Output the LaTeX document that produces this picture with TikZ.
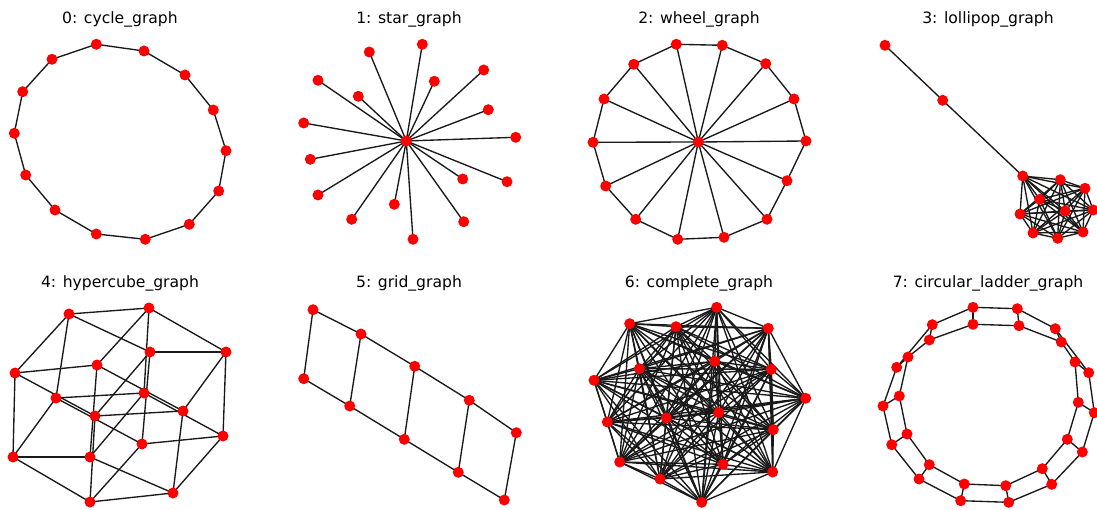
\documentclass[tikz,border=0pt]{standalone}
\usepackage{fontspec}
\setmainfont{DejaVu Sans}
\usetikzlibrary{backgrounds}
\tikzset{
  vtx/.style={circle, fill=red, draw=none, inner sep=0pt, minimum size=11pt},
  edg/.style={draw=black!90, line width=1.35pt},
  ttl/.style={anchor=base, font=\fontsize{15.6}{18}\selectfont, inner sep=0pt}
}
\begin{document}
\begin{tikzpicture}[x=1pt, y=-1pt]
\useasboundingbox (0,0) rectangle (1097,510);
% ---------- titles
\node[ttl] (t0) at (120,24) {0: cycle\_graph};
\node[ttl] (t1) at (409,24) {1: star\_graph};
\node[ttl] (t2) at (699,24) {2: wheel\_graph};
\node[ttl] (t3) at (988,24) {3: lollipop\_graph};
\node[ttl] (t4) at (120,288) {4: hypercube\_graph};
\node[ttl] (t5) at (409,288) {5: grid\_graph};
\node[ttl] (t6) at (699,288) {6: complete\_graph};
\node[ttl] (t7) at (988,288) {7: circular\_ladder\_graph};
% ---------- 0: cycle
\foreach \n/\p in {0/{(96.3,44.3)},1/{(144,51)},2/{(185,75)},3/{(213.3,110)},4/{(226,150.7)},5/{(218.7,191)},6/{(189.3,224.3)},7/{(145.3,239.3)},8/{(96.3,234)},9/{(55,210)},10/{(25.7,175)},11/{(14.3,133.3)},12/{(22.7,91.7)},13/{(52,59.3)}}
  \node[vtx] (a\n) at \p {};
% ---------- 1: star
\node[vtx] (s0) at (406.3,141) {};
\foreach \n/\p in {1/{(369.3,52)},2/{(422.3,44.3)},3/{(434.3,81.3)},4/{(483.7,70)},5/{(488.3,109.7)},6/{(515.7,137.3)},7/{(507,181.7)},8/{(462.7,179)},9/{(463.7,221.7)},10/{(413,239.3)},11/{(394.3,204.3)},12/{(351.7,219.3)},13/{(318,195)},14/{(310.3,159.3)},15/{(303.7,123)},16/{(318,80.3)},17/{(358.3,96.3)}}
  \node[vtx] (s\n) at \p {};
% ---------- 2: wheel
\node[vtx] (w0) at (698.3,142) {};
\foreach \n/\p in {1/{(676.3,44.3)},2/{(722.3,45.3)},3/{(765.7,63.7)},4/{(794,99)},5/{(806,141)},6/{(787,180.7)},7/{(767,219.3)},8/{(724,237.3)},9/{(677.7,239.3)},10/{(635.7,219.3)},11/{(605.7,186)},12/{(593,142.3)},13/{(604,99)},14/{(633.7,64.3)}}
  \node[vtx] (w\n) at \p {};
% ---------- 3: lollipop
\foreach \n/\p in {0/{(1022.7,176)},1/{(1060.3,179.7)},2/{(1085,188.3)},3/{(1039.7,199.3)},4/{(1093.3,210)},5/{(1065.3,211)},6/{(1020,214)},7/{(1033,233)},8/{(1057.7,238.3)},9/{(1083,232)},10/{(942.7,100.3)},11/{(885,45.3)}}
  \node[vtx] (l\n) at \p {};
% ---------- 4: hypercube
\foreach \n/\p in {A/{(69,314)},B/{(149,308)},C/{(150,352)},D/{(226,352)},E/{(97,365)},F/{(15,373)},G/{(56,398)},H/{(144,393)},I/{(183,411)},J/{(95,416)},K/{(223,436)},L/{(142,444)},M/{(13,457)},N/{(90,457)},O/{(173,493)},P/{(90,502)}}
  \node[vtx] (h\n) at \p {};
% ---------- 5: grid
\foreach \n/\p in {1/{(313,309.7)},2/{(361,334)},3/{(414.7,366.3)},4/{(469.3,400.3)},5/{(516.3,432.7)},6/{(303.7,378.7)},7/{(349.7,406)},8/{(404.3,439.3)},9/{(458.3,472.3)},10/{(504.3,500)}}
  \node[vtx] (g\n) at \p {};
% ---------- 6: complete
\foreach \n/\p in {1/{(716.7,307.3)},2/{(629.7,323.7)},3/{(676,326.7)},4/{(768.3,328.3)},5/{(714.7,361.3)},6/{(639.3,368.7)},7/{(771.3,369.3)},8/{(594,380.3)},9/{(805.7,398.3)},10/{(718.7,412.7)},11/{(666.3,418)},12/{(607.3,422)},13/{(773.3,429.7)},14/{(619.7,462)},15/{(723,464.3)},16/{(772.7,472)},17/{(660,479)},18/{(701.7,502.3)}}
  \node[vtx] (k\n) at \p {};
% ---------- 7: circular ladder
\foreach \n/\p in {0/{(973,307.3)},1/{(1017.3,308.7)},2/{(1055.3,328.7)},3/{(1088.7,372.7)},4/{(1094.3,412.7)},5/{(1082.3,452)},6/{(1051.7,484.3)},7/{(1008.7,502.3)},8/{(960.7,500.7)},9/{(919,479)},10/{(891.7,444.7)},11/{(883,406)},12/{(896.7,367.3)},13/{(932.3,324.7)}}
  \node[vtx] (o\n) at \p {};
\foreach \n/\p in {0/{(973,324.3)},1/{(1019,325.7)},2/{(1061.3,342)},3/{(1075,362)},4/{(1078.3,402.3)},5/{(1067.3,439.3)},6/{(1042.3,468.7)},7/{(1005.7,485.7)},8/{(964.3,484)},9/{(929.3,464.7)},10/{(907,434)},11/{(899.3,396)},12/{(908,357)},13/{(929.3,340)}}
  \node[vtx] (i\n) at \p {};
% ================= edges
\begin{pgfonlayer}{background}
  % cycle
  \foreach \i in {0,...,13} {
    \pgfmathtruncatemacro\nx{mod(\i+1,14)}
    \draw[edg] (a\i.center) -- (a\nx.center);
  }
  % star
  \foreach \i in {1,...,17} \draw[edg] (s0.center) -- (s\i.center);
  % wheel
  \foreach \i in {1,...,14} {
    \pgfmathtruncatemacro\nx{mod(\i,14)+1}
    \draw[edg] (w0.center) -- (w\i.center);
    \draw[edg] (w\i.center) -- (w\nx.center);
  }
  % lollipop
  \foreach \i in {0,...,8} {
    \pgfmathtruncatemacro\st{\i+1}
    \foreach \j in {\st,...,9} \draw[edg] (l\i.center) -- (l\j.center);
  }
  \draw[edg] (l0.center) -- (l10.center) -- (l11.center);
  % hypercube
  \foreach \u/\v in {A/B,C/D,E/F,G/H,I/J,M/N,O/P,K/L,
                     A/G,B/H,C/L,D/K,E/N,F/M,I/O,J/P,
                     A/F,B/E,D/I,C/J,G/M,H/N,K/O,L/P,
                     A/C,B/D,M/P,N/O,F/J,E/I,G/L,H/K}
    \draw[edg] (h\u.center) -- (h\v.center);
  % grid
  \foreach \u/\v in {1/2,2/3,3/4,4/5,6/7,7/8,8/9,9/10,1/6,2/7,3/8,4/9,5/10}
    \draw[edg] (g\u.center) -- (g\v.center);
  % complete
  \foreach \i in {1,...,17} {
    \pgfmathtruncatemacro\st{\i+1}
    \foreach \j in {\st,...,18} \draw[edg] (k\i.center) -- (k\j.center);
  }
  % circular ladder
  \foreach \i in {0,...,13} {
    \pgfmathtruncatemacro\nx{mod(\i+1,14)}
    \draw[edg] (o\i.center) -- (o\nx.center);
    \draw[edg] (i\i.center) -- (i\nx.center);
    \draw[edg] (o\i.center) -- (i\i.center);
  }
\end{pgfonlayer}
\end{tikzpicture}
\end{document}
